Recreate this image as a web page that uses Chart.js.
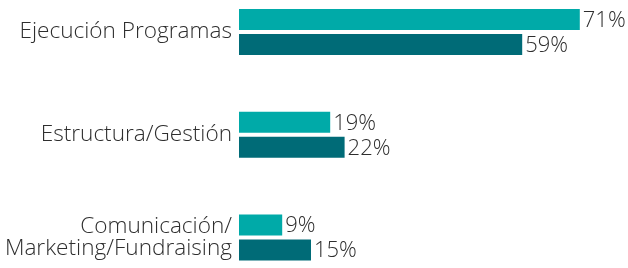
<!DOCTYPE html>
<html>
<head>
<meta charset="utf-8">
<script src="https://cdn.jsdelivr.net/npm/chart.js@4.4.1/dist/chart.umd.min.js"></script>
<style>
  html, body { margin: 0; padding: 0; background: #fff; }
  #wrap { width: 628px; height: 268px; }
</style>
</head>
<body>
<div id="wrap"><canvas id="barChart"></canvas></div>
<script>
// categories (multi-line label as an array)
const categories = [
    'Ejecución Programas',
    'Estructura/Gestión',
    ['Comunicación/', 'Marketing/Fundraising']
]
const seriesA = [71, 19, 9]
const seriesB = [59, 22, 15]

const FONT = "'Open Sans', sans-serif"
const TEXT_COLOR = '#2e2e2e'

// draws the "71%" style labels just right of each bar
const valueLabels = {
    id: 'valueLabels',
    afterDatasetsDraw(chart) {
        const ctx = chart.ctx
        ctx.save()
        ctx.font = '300 22px ' + FONT
        ctx.fillStyle = TEXT_COLOR
        ctx.textAlign = 'left'
        ctx.textBaseline = 'middle'
        chart.data.datasets.forEach((ds, i) => {
            chart.getDatasetMeta(i).data.forEach((bar, j) => {
                ctx.fillText(ds.data[j] + '%', bar.x + 3, bar.y + 1)
            })
        })
        ctx.restore()
    }
}

new Chart(document.getElementById('barChart'), {
    type: 'bar',
    data: {
        labels: categories,
        datasets: [
            { data: seriesA, backgroundColor: '#00aaa8', clip: false },
            { data: seriesB, backgroundColor: '#006b77', clip: false }
        ]
    },
    options: {
        indexAxis: 'y',
        responsive: true,
        maintainAspectRatio: false,
        animation: false,
        categoryPercentage: 0.4866,
        barPercentage: 0.84,
        layout: { padding: { top: 32, bottom: 30.5, left: 0, right: 5 } },
        plugins: {
            legend: { display: false },
            tooltip: { enabled: false }
        },
        scales: {
            x: { display: false, min: 0, max: 80 },
            y: {
                offset: false,
                grid: { display: false, drawTicks: false },
                border: { display: false },
                ticks: {
                    padding: 7,
                    color: TEXT_COLOR,
                    font: { family: FONT, size: 22.6, weight: 300, lineHeight: 1.0 }
                },
                // fixed axis width so the bars start at x=239
                afterFit(scale) { scale.width = 239 }
            }
        }
    },
    plugins: [valueLabels]
})
</script>
</body>
</html>
